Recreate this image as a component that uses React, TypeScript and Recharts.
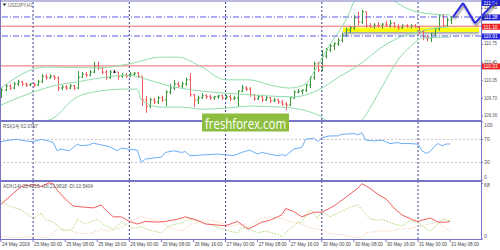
import React from 'react';
import { ComposedChart, Bar, Line, XAxis, YAxis, ReferenceLine, ReferenceArea } from 'recharts';

// USDJPY H1, 24 May 16:00 .. 31 May 08:00 (bar index i)
const opens = [
  109.77, 109.86, 109.94, 109.9, 109.98, 110.02, 109.98, 109.96, 109.98, 109.96,
  110.02, 110.13, 110.1, 110.13, 110.1, 109.9, 109.92, 109.9, 109.94, 109.9,
  110.11, 110.17, 110.15, 110.21, 110.33, 110.29, 110.21, 110.1, 110.21, 110.21,
  110.13, 110.15, 110.13, 110.17, 110.19, 110.13, 109.67, 109.55, 109.67, 109.63,
  109.71, 109.67, 109.82, 109.9, 109.98, 109.94, 109.98, 110.06, 109.77, 109.67,
  109.71, 109.75, 109.73, 109.71, 109.73, 109.75, 109.71, 109.73, 109.69, 109.71,
  109.84, 109.9, 109.88, 109.77, 109.69, 109.73, 109.67, 109.71, 109.65, 109.67,
  109.63, 109.59, 109.57, 109.71, 109.82, 109.84, 109.86, 109.96, 110.1, 110.37,
  110.25, 110.52, 110.64, 110.72, 110.76, 110.83, 110.93, 111.03, 111.07, 111.26,
  111.18, 111.38, 111.11, 111.09, 111.12, 111.11, 111.14, 111.12, 111.16, 111.09,
  111.07, 111.11, 111.09, 111.11, 111.09, 111.0, 110.89, 110.87, 110.95, 111.05,
  111.3, 111.11, 111.22,
];
const highs = [
  109.9, 109.98, 109.98, 110.02, 110.06, 110.04, 110.0, 110.0, 110.0, 110.06,
  110.17, 110.17, 110.17, 110.15, 110.12, 109.96, 109.96, 109.98, 109.96, 110.23,
  110.21, 110.21, 110.25, 110.41, 110.41, 110.31, 110.25, 110.25, 110.25, 110.21,
  110.19, 110.19, 110.21, 110.21, 110.21, 110.13, 109.75, 109.71, 109.71, 109.75,
  109.75, 109.86, 109.98, 110.06, 110.02, 110.02, 110.1, 110.19, 109.78, 109.75,
  109.8, 109.78, 109.77, 109.75, 109.77, 109.77, 109.77, 109.77, 109.75, 109.86,
  109.96, 109.94, 109.92, 109.78, 109.77, 109.77, 109.75, 109.73, 109.71, 109.69,
  109.67, 109.63, 109.73, 109.86, 109.88, 109.88, 109.98, 110.13, 110.41, 110.41,
  110.64, 110.68, 110.76, 110.79, 110.87, 110.97, 111.07, 111.11, 111.32, 111.38,
  111.42, 111.38, 111.16, 111.16, 111.18, 111.16, 111.2, 111.22, 111.18, 111.14,
  111.14, 111.14, 111.14, 111.14, 111.11, 111.03, 110.93, 110.97, 111.07, 111.34,
  111.32, 111.26, 111.3,
];
const lows = [
  109.71, 109.84, 109.86, 109.88, 109.94, 109.94, 109.92, 109.94, 109.92, 109.94,
  110.0, 110.06, 110.08, 110.06, 109.84, 109.86, 109.86, 109.88, 109.86, 109.88,
  110.1, 110.11, 110.13, 110.19, 110.25, 110.17, 110.06, 110.08, 110.19, 110.06,
  110.1, 110.1, 110.11, 110.13, 110.1, 109.55, 109.42, 109.51, 109.59, 109.59,
  109.63, 109.55, 109.78, 109.86, 109.9, 109.9, 109.94, 109.73, 109.53, 109.59,
  109.69, 109.69, 109.67, 109.67, 109.69, 109.67, 109.69, 109.65, 109.67, 109.53,
  109.82, 109.84, 109.73, 109.65, 109.67, 109.63, 109.65, 109.61, 109.63, 109.59,
  109.55, 109.47, 109.55, 109.69, 109.8, 109.78, 109.82, 109.9, 110.06, 110.21,
  110.23, 110.48, 110.6, 110.64, 110.72, 110.79, 110.89, 110.97, 111.03, 111.12,
  111.14, 111.07, 111.07, 111.05, 111.07, 111.05, 111.09, 111.07, 111.07, 111.03,
  111.05, 111.07, 111.05, 111.07, 110.95, 110.83, 110.81, 110.79, 110.91, 111.01,
  111.07, 111.09, 111.14,
];
const closes = [
  109.86, 109.94, 109.9, 109.98, 110.02, 109.98, 109.96, 109.98, 109.96, 110.02,
  110.13, 110.1, 110.13, 110.1, 109.9, 109.92, 109.9, 109.94, 109.9, 110.11,
  110.17, 110.15, 110.21, 110.33, 110.29, 110.21, 110.1, 110.21, 110.21, 110.13,
  110.15, 110.13, 110.17, 110.19, 110.13, 109.67, 109.55, 109.67, 109.63, 109.71,
  109.67, 109.82, 109.9, 109.98, 109.94, 109.98, 110.06, 109.77, 109.67, 109.71,
  109.75, 109.73, 109.71, 109.73, 109.75, 109.71, 109.73, 109.69, 109.71, 109.84,
  109.9, 109.88, 109.77, 109.69, 109.73, 109.67, 109.71, 109.65, 109.67, 109.63,
  109.59, 109.57, 109.71, 109.82, 109.84, 109.86, 109.96, 110.1, 110.37, 110.25,
  110.52, 110.64, 110.72, 110.76, 110.83, 110.93, 111.03, 111.07, 111.26, 111.18,
  111.38, 111.11, 111.09, 111.12, 111.11, 111.14, 111.12, 111.16, 111.09, 111.07,
  111.11, 111.09, 111.11, 111.09, 111.0, 110.89, 110.87, 110.95, 111.05, 111.3,
  111.11, 111.22, 111.26,
];

// Bollinger bands (20), read at sample bars: [bar, price]
const bbUpper = [
  [0, 109.9], [11, 110.31], [24, 110.29], [32, 110.37], [40, 110.5], [44, 110.5], [50, 110.31],
  [56, 110.06], [62, 110.06], [67, 109.96], [72, 109.9], [76, 109.98], [78, 110.21], [82, 110.74],
  [86, 111.22], [89, 111.71], [93, 111.9], [97, 111.65], [102, 111.42], [107, 111.34], [112, 111.32],
];
const bbMiddle = [
  [0, 109.57], [8, 109.82], [14, 109.96], [19, 110.02], [25, 110.1], [32, 110.15], [35, 110.1],
  [41, 109.96], [48, 109.86], [56, 109.8], [62, 109.77], [73, 109.73], [80, 109.9], [84, 110.1],
  [90, 110.39], [94, 110.64], [99, 110.87], [104, 110.99], [109, 111.07], [112, 111.09],
];
const bbLower = [
  [0, 109.18], [12, 109.28], [19, 109.73], [23, 109.82], [31, 109.88], [34, 109.88], [35, 109.67],
  [40, 109.53], [45, 109.53], [50, 109.49], [56, 109.51], [62, 109.55], [70, 109.53], [79, 109.38],
  [81, 109.28], [84, 109.12], [87, 109.09], [90, 109.28], [95, 109.92], [99, 110.45], [102, 110.7],
  [105, 110.87], [112, 110.89],
];

const rsi = [
  [0, 66], [2, 68.6], [4, 70.3], [6, 67.4], [8, 66], [10, 70], [12, 67], [13, 64.5], [14, 50.4],
  [15, 53.3], [17, 50.4], [19, 61.8], [20, 59], [22, 60.5], [23, 63.5], [25, 60.5], [27, 57.7],
  [29, 50.4], [30, 55], [32, 53], [34, 51.4], [35, 30.5], [36, 36], [38, 38], [40, 39.4], [41, 47.5],
  [43, 50.4], [45, 47.5], [46, 49], [47, 42], [49, 42.5], [51, 43.6], [54, 44.7], [56, 43.6],
  [58, 42], [60, 47.5], [62, 51.6], [64, 44.7], [65, 47.5], [67, 44.7], [69, 41.9], [70, 43.6],
  [71, 41.9], [73, 53.3], [75, 56], [76, 70.3], [78, 72], [79, 66], [80, 73], [82, 76], [84, 76],
  [85, 78.8], [88, 80], [89, 78], [90, 81.6], [91, 68.6], [93, 67.4], [95, 68.6], [97, 62.8],
  [99, 64.5], [100, 62.8], [102, 62.8], [104, 61.8], [105, 50.4], [106, 45.8], [107, 49],
  [108, 57.2], [109, 63], [110, 59], [111, 62], [112, 62.08],
];

const adx = [
  [0, 42.6], [3, 55.8], [5, 64.5], [8, 66.7], [10, 64.5], [12, 69], [13, 68], [14, 60], [16, 49.2],
  [18, 40.4], [21, 39], [23, 38.2], [25, 41.7], [26, 36], [28, 27.2], [30, 27.2], [32, 21.6],
  [34, 18.4], [36, 21.6], [39, 20.7], [41, 21.6], [44, 24.2], [46, 27.2], [49, 22.9], [51, 18.4],
  [54, 17.1], [56, 16.3], [59, 21.6], [61, 14.1], [62, 12.8], [65, 20.7], [67, 22.9], [70, 29.5],
  [71, 37.4], [73, 33.8], [75, 27.2], [78, 32.9], [80, 32.9], [83, 40.4], [86, 51.3], [89, 62.4],
  [90, 68], [92, 62.4], [94, 54.9], [96, 49.2], [98, 38.2], [100, 29.5], [103, 22.9], [104, 21.6],
  [107, 25.9], [109, 20.7], [111, 20.7], [112, 21.6],
];
const plusDi = [
  [0, 47], [2, 40.4], [5, 36], [8, 25], [10, 31.6], [11, 24.2], [13, 20.7], [15, 12.8], [16, 9.7],
  [18, 12.8], [19, 24.2], [21, 18.4], [24, 24.2], [26, 16.3], [28, 11.8], [30, 20.7], [33, 12.8],
  [35, 15.4], [37, 11], [40, 7.5], [42, 16.3], [45, 19.7], [47, 25], [50, 20.7], [52, 18.4],
  [55, 12.8], [57, 9.7], [59, 7.5], [60, 14.1], [62, 11.8], [64, 7.5], [66, 9.7], [69, 5.3],
  [70, 3.1], [72, 11.8], [74, 20.7], [75, 20.7], [77, 36], [78, 31.6], [79, 25], [80, 33.8],
  [82, 27.2], [85, 33.8], [87, 39], [89, 41.7], [90, 36.4], [92, 25], [94, 22.9], [95, 24.2],
  [98, 18.4], [100, 16.3], [102, 22.9], [104, 20], [105, 16.3], [107, 9.7], [109, 18.4],
  [110, 24.2], [111, 24], [112, 22],
];
const minusDi = [
  [0, 3.1], [4, 1], [8, 3], [12, 1], [14, 11.8], [16, 11.8], [19, 7.5], [22, 6.5], [25, 11.8],
  [27, 9.7], [30, 14], [32, 21.6], [35, 27.2], [37, 25], [40, 21.6], [42, 14], [45, 9.7], [47, 16.3],
  [50, 22.9], [52, 22.9], [55, 20], [57, 15.4], [60, 18.4], [62, 16.3], [65, 25.9], [67, 27.2],
  [70, 25], [72, 21.6], [75, 18.4], [77, 14], [80, 11], [82, 6.5], [85, 5.3], [87, 3.1], [90, 1],
  [91, 7.5], [94, 9.7], [97, 9.7], [100, 12.8], [102, 12.8], [104, 15.4], [107, 18.4], [109, 21.6],
  [111, 12], [112, 10.5],
];

// hand-drawn forecast zigzag and the highlighted zone
const forecast = [[112.7, 111.28], [115.2, 111.55], [118.2, 111.16], [123.7, 111.61]];
const zone = { from: 85.3, to: 119.2, low: 110.99, high: 111.076 };

const blueLevels = [111.64, 111.28, 110.91];
const redLevels = [111.1, 110.33];
const priceTicks = [109.36, 109.7, 110.05, 110.4, 110.75, 111.45];
const rsiTicks = [0, 30, 70, 100];
const adxTicks = [0, 68];
const daySeps = [8, 32, 56, 80, 104];
const xTicks = [0, 8, 16, 24, 32, 40, 48, 56, 64, 72, 80, 88, 96, 104, 112];
const xLabels = [
  '24 May 2016', '25 May 00:00', '25 May 08:00', '25 May 16:00', '26 May 00:00', '26 May 08:00',
  '26 May 16:00', '27 May 00:00', '27 May 08:00', '27 May 16:00', '30 May 00:00', '30 May 08:00',
  '30 May 16:00', '31 May 00:00', '31 May 08:00',
];

const bars = closes.map((c, i) => ({ i, range: [lows[i], highs[i]], o: opens[i], h: highs[i], l: lows[i], c }));
const pts = (arr: number[][]) => arr.map(([i, v]) => ({ i, v }));

const PURPLE = '#7676c4';
const FONT = '"Liberation Sans", Arial, sans-serif';
const X_DOMAIN = [-0.25, 119.7];

const OhlcShape = (props: any) => {
  const { x, y, width, height, payload } = props;
  if (x == null || !payload) return null;
  const cx = Math.round(x + width / 2) + 0.5;
  const top = Math.min(y, y + height);
  const hgt = Math.abs(height);
  const span = payload.h - payload.l || 1;
  const py = (p: number) => top + ((payload.h - p) / span) * hgt;
  const col = payload.c > payload.o ? '#3a9a3a' : payload.c < payload.o ? '#f05a5a' : '#222';
  return (
    <g stroke={col} strokeWidth={1}>
      <line x1={cx} x2={cx} y1={top} y2={top + hgt} />
      <line x1={cx - 1.5} x2={cx} y1={py(payload.o)} y2={py(payload.o)} />
      <line x1={cx} x2={cx + 1.5} y1={py(payload.c)} y2={py(payload.c)} />
    </g>
  );
};

const PriceTag = (props: any) => {
  const { viewBox, text, fill } = props;
  if (!viewBox) return null;
  const cy = Math.max(viewBox.y + 0.5, 3);
  const x0 = viewBox.x + viewBox.width + 1;
  return (
    <g>
      <rect x={x0} y={cy - 3} width={18} height={6} fill={fill} />
      <text x={x0 + 1.5} y={cy + 1.9} fontSize={5.2} fill="#fff" fontFamily={FONT} textLength={14} lengthAdjust="spacingAndGlyphs">
        {text}
      </text>
    </g>
  );
};

const PriceTick = (props: any) => {
  const { x, y, payload } = props;
  return (
    <text x={x} y={y + 1.2} fontSize={5} fill="#555" fontFamily={FONT} textLength={13} lengthAdjust="spacingAndGlyphs">
      {payload.value.toFixed(2)}
    </text>
  );
};

// lo / hi keep the end labels inside the pane (chart-local pixels)
const SmallTick = (props: any) => {
  const { x, y, payload, lo, hi } = props;
  const yy = Math.min(Math.max(y, lo), hi);
  return (
    <text x={x} y={yy + 1.8} fontSize={5.2} fill="#555" fontFamily={FONT}>
      {payload.value}
    </text>
  );
};

const TimeTick = (props: any) => {
  const { x, y, index } = props;
  return (
    <text x={x + 1} y={y + 3.5} fontSize={5.2} fill="#444" fontFamily={FONT} textLength={28} lengthAdjust="spacingAndGlyphs">
      {xLabels[index]}
    </text>
  );
};

const daySepLines = () =>
  daySeps.map((d) => <ReferenceLine key={'d' + d} x={d} stroke="#3a3a90" strokeDasharray="2 2" strokeWidth={1} />);

export default function App() {
  return (
    <div style={{ position: 'relative', width: 500, height: 250, background: '#fff', overflow: 'hidden' }}>
      <style>{`body{margin:0}
.fc line{filter:drop-shadow(1px 2px 1px rgba(0,0,0,.45))}
.yb path{filter:drop-shadow(0 2px 1px rgba(0,0,0,.35))}`}</style>

      <div style={{ position: 'absolute', left: 0, top: 0 }}>
        <ComposedChart width={500} height={121} data={bars} margin={{ top: 1, right: 0, bottom: 1, left: 0 }}>
          <XAxis type="number" dataKey="i" domain={X_DOMAIN} allowDataOverflow hide />
          <YAxis
            orientation="right"
            width={19}
            domain={[109.28, 111.59]}
            allowDataOverflow
            ticks={priceTicks}
            interval={0}
            tick={<PriceTick />}
            tickSize={2}
            tickMargin={1}
            tickLine={{ stroke: PURPLE }}
            axisLine={false}
          />
          <ReferenceArea
            className="yb"
            x1={zone.from}
            x2={zone.to}
            y1={zone.low}
            y2={zone.high}
            fill="#ffff10"
            fillOpacity={1}
            stroke="none"
            ifOverflow="visible"
          />
          {daySepLines()}
          {redLevels.map((p) => (
            <ReferenceLine key={'r' + p} y={p} stroke="#f06a6a" strokeWidth={1}
              label={<PriceTag text={p.toFixed(2)} fill="#ee2222" />} ifOverflow="visible" />
          ))}
          {blueLevels.map((p) => (
            <ReferenceLine key={'b' + p} y={p} stroke="#5a5ae8" strokeWidth={1} strokeDasharray="6 2 1 2"
              label={<PriceTag text={p.toFixed(2)} fill="#2222d8" />} ifOverflow="visible" />
          ))}
          <Line data={pts(bbUpper)} dataKey="v" type="monotone" stroke="#8fdcaa" strokeWidth={1} dot={false} isAnimationActive={false} />
          <Line data={pts(bbMiddle)} dataKey="v" type="monotone" stroke="#8fdcaa" strokeWidth={1} dot={false} isAnimationActive={false} />
          <Line data={pts(bbLower)} dataKey="v" type="monotone" stroke="#8fdcaa" strokeWidth={1} dot={false} isAnimationActive={false} />
          <Bar dataKey="range" barSize={3} shape={<OhlcShape />} isAnimationActive={false} />
          {forecast.slice(1).map((pt, k) => (
            <ReferenceLine
              key={'f' + k}
              className="fc"
              segment={[{ x: forecast[k][0], y: forecast[k][1] }, { x: pt[0], y: pt[1] }]}
              stroke="#2a2ae6"
              strokeWidth={2}
              ifOverflow="visible"
            />
          ))}
        </ComposedChart>
      </div>

      <div style={{ position: 'absolute', left: 0, top: 121 }}>
        <ComposedChart width={500} height={60} margin={{ top: 1, right: 0, bottom: 1, left: 0 }}>
          <XAxis type="number" dataKey="i" domain={X_DOMAIN} allowDataOverflow hide />
          <YAxis orientation="right" width={19} domain={[0, 100]} ticks={rsiTicks} interval={0}
            tick={<SmallTick lo={4} hi={56} />} tickSize={2} tickMargin={1} tickLine={{ stroke: PURPLE }} axisLine={false} />
          {daySepLines()}
          <ReferenceLine y={70} stroke="#c4c4c4" strokeDasharray="2 2" />
          <ReferenceLine y={30} stroke="#c4c4c4" strokeDasharray="2 2" />
          <Line data={pts(rsi)} dataKey="v" type="linear" stroke="#6aaef5" strokeWidth={1} dot={false} isAnimationActive={false} />
        </ComposedChart>
      </div>

      <div style={{ position: 'absolute', left: 0, top: 181 }}>
        <ComposedChart width={500} height={69} margin={{ top: 1, right: 0, bottom: 0, left: 0 }}>
          <XAxis type="number" dataKey="i" domain={X_DOMAIN} allowDataOverflow ticks={xTicks} interval={0}
            tick={<TimeTick />} tickSize={3} tickMargin={0} tickLine={{ stroke: PURPLE }} axisLine={false} height={11} />
          <YAxis orientation="right" width={19} domain={[0, 70]} ticks={adxTicks} interval={0}
            tick={<SmallTick lo={4} hi={55} />} tickSize={2} tickMargin={1} tickLine={{ stroke: PURPLE }} axisLine={false} />
          {daySepLines()}
          <Line data={pts(minusDi)} dataKey="v" type="linear" stroke="#f6d2b4" strokeWidth={1} strokeDasharray="1.5 1.5" dot={false} isAnimationActive={false} />
          <Line data={pts(plusDi)} dataKey="v" type="linear" stroke="#b2d46a" strokeWidth={1} strokeDasharray="1.5 1.5" dot={false} isAnimationActive={false} />
          <Line data={pts(adx)} dataKey="v" type="linear" stroke="#f25c5c" strokeWidth={1} dot={false} isAnimationActive={false} />
        </ComposedChart>
      </div>

      <svg width={500} height={250} style={{ position: 'absolute', left: 0, top: 0, pointerEvents: 'none' }}>
        <rect x={0} y={0.5} width={481} height={1} fill={PURPLE} />
        <rect x={0} y={0} width={1} height={240} fill={PURPLE} />
        <rect x={481} y={0} width={1} height={240} fill={PURPLE} />
        <rect x={0} y={120} width={482} height={2} fill={PURPLE} />
        <rect x={0} y={180} width={482} height={2} fill={PURPLE} />
        <rect x={0} y={239} width={482} height={1} fill={PURPLE} />
        <path d="M2.5 3.5 L6.5 3.5 L4.5 6 Z" fill="#333" />
        <text x={8} y={6.5} fontSize={5.8} fill="#666" fontFamily={FONT} textLength={25} lengthAdjust="spacingAndGlyphs">USDJPY,H1</text>
        <text x={3} y={127.5} fontSize={5.5} fill="#555" fontFamily={FONT} textLength={35} lengthAdjust="spacingAndGlyphs">RSI(14) 62.0797</text>
        <text x={3} y={187.5} fontSize={5.5} fill="#555" fontFamily={FONT} textLength={90} lengthAdjust="spacingAndGlyphs">
          ADX(14) 25.4215 +DI:21.9818 -DI:10.5404
        </text>
        <rect x={202} y={113.5} width={87} height={18} fill="#8dbe3f" />
        <text x={205} y={128.5} fontSize={15} fill="#fff" fontFamily='"Open Sans", sans-serif' textLength={81} lengthAdjust="spacingAndGlyphs">
          freshforex.com
        </text>
      </svg>
    </div>
  );
}
